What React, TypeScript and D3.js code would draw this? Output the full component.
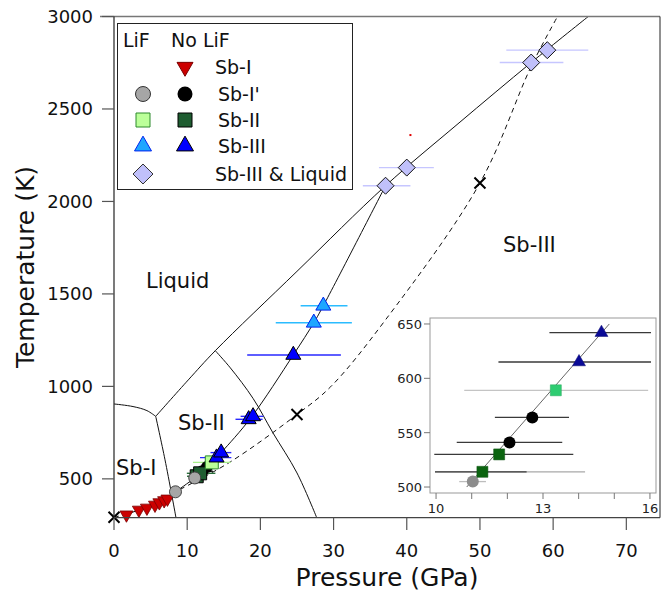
import React from "react";
import * as d3 from "d3";

const W = 670;
const H = 591;
const FONT = "DejaVu Sans, sans-serif";

// phase boundaries, [pressure GPa, temperature K]
const sbILiquid: [number, number][] = [[0, 905], [2.6, 891], [4.5, 869], [5.7, 838]];
const sbISbII: [number, number][] = [[5.7, 838], [6.97, 603], [8.47, 290]];
const meltingCurve: [number, number][] = [[5.7, 838], [10.15, 1035], [13.84, 1193], [25, 1622], [37.1, 2085], [47, 2420], [57, 2751], [64.8, 3000]];
const sbIISbIII: [number, number][] = [[13.84, 1193], [15.9, 1100], [19.0, 935], [21.7, 750], [25, 532], [27.7, 290]];
const dashedCurve: [number, number][] = [[0, 292], [3.5, 333], [8.4, 430], [15.9, 592], [25, 848], [29.6, 998], [37.1, 1360], [50, 2100], [57, 2730], [60.6, 3000]];
const dataCurve: [number, number][] = [[8.4, 430], [11.03, 505], [12.06, 541], [13.36, 589], [14.64, 642], [18.7, 830], [24.5, 1170], [27.3, 1344], [28.6, 1436], [37.1, 2085]];
const crossPoints: [number, number][] = [[0, 292], [25, 848], [50, 2100]];
const strayDot: [number, number][] = [[40.5, 2359]];

// measurements: [P, T, P low, P high]
type Pt = [number, number, number | null, number | null];
const sbINoLiF: Pt[] = [[1.7, 306, null, null], [3.4, 332, null, null], [4.5, 343, null, null], [5.6, 359, null, null], [6.2, 372, null, null], [6.85, 383, null, null], [7.3, 392, null, null]];
const sbIpLiF: Pt[] = [[8.4, 430, null, null], [11.03, 505, 10.65, 11.4]];
const sbIpNoLiF: Pt[] = [[12.06, 541, 10.58, 13.54], [12.7, 564, 11.65, 13.73]];
const sbIILiF: Pt[] = [[13.36, 589, 10.79, 15.95]];
const sbIINoLiF: Pt[] = [[11.3, 514, 9.97, 12.54], [11.77, 530, 9.95, 13.85]];
const sbIIExtraBar: Pt[] = [[11.3, 514, 9.97, 14.18]];
const sbIIILiF: Pt[] = [[27.3, 1344, 22.1, 32.5], [28.6, 1436, 25.5, 31.9]];
const sbIIINoLiF: Pt[] = [[14.01, 615, 11.75, 16.03], [14.64, 642, 13.18, 16.03], [18.4, 822, 16.6, 20.3], [19.0, 838, 17.3, 20.4], [24.5, 1170, 18.2, 31.0]];
const liquidMixLiF: Pt[] = [[37.1, 2085, 34.0, 40.5], [40.0, 2183, 36.2, 43.7], [57.0, 2751, 52.7, 61.4], [59.2, 2818, 53.6, 64.8]];

const insetFit: [number, number][] = [[10.86, 500], [14.86, 650]];

const pressureTicks = [0, 10, 20, 30, 40, 50, 60, 70];
const tempTicks = [500, 1000, 1500, 2000, 2500, 3000];
const insetPTicks = [10, 11, 12, 13, 14, 15, 16];
const insetPLabels = [10, 13, 16];
const insetTTicks = [500, 550, 600, 650];

const regionLabels = [
  { text: "Liquid", x: 146, y: 288 },
  { text: "Sb-III", x: 503, y: 252 },
  { text: "Sb-II", x: 178, y: 430 },
  { text: "Sb-I", x: 116, y: 475 },
];

const legendRows = ["Sb-I", "Sb-I'", "Sb-II", "Sb-III", "Sb-III & Liquid"];

// marker paths centred on 0,0
const triUp = (w: number) => {
  const h = w * 0.87;
  return `M0,${-2 * h / 3}L${w / 2},${h / 3}L${-w / 2},${h / 3}Z`;
};
const triDown = (w: number) => {
  const h = w * 0.87;
  return `M0,${2 * h / 3}L${w / 2},${-h / 3}L${-w / 2},${-h / 3}Z`;
};
const diamond = (d: number) => `M0,${-d / 2}L${d / 2},0L0,${d / 2}L${-d / 2},0Z`;
const square = (s: number) => `M${-s / 2},${-s / 2}h${s}v${s}h${-s}Z`;
const circle = (r: number) => `M${-r},0a${r},${r} 0 1,0 ${2 * r},0a${r},${r} 0 1,0 ${-2 * r},0Z`;

type Style = { path: string; fill: string; stroke: string; sw?: number };

const mainStyles: Record<string, Style> = {
  sbI: { path: triDown(13), fill: "#cc0000", stroke: "#7a0000", sw: 0.8 },
  sbIpLiF: { path: circle(6), fill: "#a6a6a6", stroke: "#444", sw: 1 },
  sbIpNo: { path: circle(6), fill: "#000", stroke: "#000" },
  sbIILiF: { path: square(13), fill: "#bbff99", stroke: "#2c8a2c", sw: 1 },
  sbIINo: { path: square(13), fill: "#1e5c30", stroke: "#000", sw: 1 },
  sbIIILiF: { path: triUp(15), fill: "#1ea6ff", stroke: "#0022ee", sw: 1 },
  sbIIINo: { path: triUp(15), fill: "#0000ff", stroke: "#000", sw: 1 },
  mix: { path: diamond(17), fill: "#c0c0fa", stroke: "#111", sw: 1 },
};

const App = () => {
  const x = d3.scaleLinear().domain([0, 74.6]).range([114, 660]);
  const y = d3.scaleLinear().domain([290, 3000]).range([517.7, 16.5]);
  const ix = d3.scaleLinear().domain([9.83, 16.17]).range([430, 656]);
  const iy = d3.scaleLinear().domain([494.5, 655.5]).range([493, 318]);

  const line = d3.line<[number, number]>().x((d) => x(d[0])).y((d) => y(d[1])).curve(d3.curveCatmullRom);
  const iline = d3.line<[number, number]>().x((d) => ix(d[0])).y((d) => iy(d[1]));

  const mainBars: [Pt[], string][] = [
    [sbIpLiF, "#b4b4b4"],
    [sbIpNoLiF, "#222"],
    [sbIINoLiF, "#2b6e3b"],
    [sbIILiF, "#a8f08a"],
    [sbIIINoLiF, "#2828ff"],
    [sbIIILiF, "#2bbcff"],
    [liquidMixLiF, "#c6c6ff"],
  ];
  const mainMarks: [Pt[], Style][] = [
    [sbINoLiF, mainStyles.sbI],
    [sbIpNoLiF, mainStyles.sbIpNo],
    [sbIINoLiF, mainStyles.sbIINo],
    [sbIpLiF, mainStyles.sbIpLiF],
    [sbIILiF, mainStyles.sbIILiF],
    [sbIIINoLiF, mainStyles.sbIIINo],
    [sbIIILiF, mainStyles.sbIIILiF],
    [liquidMixLiF, mainStyles.mix],
  ];

  const inInset = (d: Pt) => d[0] > 9.83 && d[0] < 16.17 && d[1] > 494.5 && d[1] < 655.5;
  const insetBars: [Pt[], string][] = [
    [sbIIExtraBar, "#a8a8a8"],
    [sbIpLiF, "#bdbdbd"],
    [sbIINoLiF, "#3a3a3a"],
    [sbIpNoLiF, "#3a3a3a"],
    [sbIILiF, "#c4c4c4"],
    [sbIIINoLiF, "#3a3a3a"],
  ];
  const insetMarks: [Pt[], Style][] = [
    [sbIpLiF, { path: circle(6), fill: "#8c8c8c", stroke: "none" }],
    [sbIINoLiF, { path: square(11), fill: "#0b6410", stroke: "#0b5010", sw: 0.5 }],
    [sbIpNoLiF, { path: circle(6), fill: "#000", stroke: "none" }],
    [sbIILiF, { path: square(11), fill: "#2ecc71", stroke: "#27a85c", sw: 0.5 }],
    [sbIIINoLiF, { path: triUp(13), fill: "#0a0a96", stroke: "#0a0a70", sw: 0.5 }],
  ];

  const legendY = [67, 94, 120, 146, 174];
  const legendLiF: (Style | null)[] = [
    null,
    { path: circle(7.5), fill: "#a6a6a6", stroke: "#333", sw: 1 },
    { path: square(14), fill: "#bbff99", stroke: "#2c8a2c", sw: 1 },
    { path: triUp(17), fill: "#1ea6ff", stroke: "#0022ee", sw: 1 },
    { path: diamond(20), fill: "#c0c0fa", stroke: "#333", sw: 1 },
  ];
  const legendNo: (Style | null)[] = [
    { path: triDown(16), fill: "#cc0000", stroke: "#7a0000", sw: 1 },
    { path: circle(7.5), fill: "#000", stroke: "#000" },
    { path: square(14), fill: "#1e5c30", stroke: "#000", sw: 1 },
    { path: triUp(17), fill: "#0000ff", stroke: "#000", sw: 1 },
    null,
  ];

  return (
    <svg width={W} height={H} style={{ position: "absolute", left: 0, top: 0, background: "#fff" }} fontFamily={FONT}>
      <defs>
        <clipPath id="plotClip">
          <rect x={114} y={16.5} width={546} height={501.2} />
        </clipPath>
      </defs>

      {/* phase boundaries */}
      <g clipPath="url(#plotClip)" fill="none" stroke="#111" strokeWidth={1}>
        <path d={line(sbILiquid) || ""} />
        <path d={line(sbISbII) || ""} />
        <path d={line(meltingCurve) || ""} />
        <path d={line(sbIISbIII) || ""} />
        <path d={line(dashedCurve) || ""} strokeDasharray="5,4" />
        <path d={line(dataCurve) || ""} />
      </g>

      {/* error bars */}
      {mainBars.map(([arr, col], i) => (
        <g key={"b" + i} stroke={col} strokeWidth={1.4}>
          {arr.filter((d) => d[2] !== null).map((d, j) => (
            <line key={j} x1={x(d[2] as number)} x2={x(d[3] as number)} y1={y(d[1])} y2={y(d[1])} />
          ))}
        </g>
      ))}

      {/* markers */}
      {mainMarks.map(([arr, st], i) => (
        <g key={"m" + i}>
          {arr.map((d, j) => (
            <path key={j} d={st.path} transform={`translate(${x(d[0])},${y(d[1])})`} fill={st.fill} stroke={st.stroke} strokeWidth={st.sw || 0} />
          ))}
        </g>
      ))}

      {crossPoints.map((d, i) => (
        <path key={"x" + i} d="M-5.5,-5.5L5.5,5.5M-5.5,5.5L5.5,-5.5" transform={`translate(${x(d[0])},${y(d[1])})`} stroke="#000" strokeWidth={2} />
      ))}
      {strayDot.map((d, i) => (
        <rect key={"s" + i} x={x(d[0]) - 1} y={y(d[1]) - 1} width={2} height={2} fill="#e00000" />
      ))}

      {regionLabels.map((r) => (
        <text key={r.text} x={r.x} y={r.y} fontSize={21} fill="#111">{r.text}</text>
      ))}

      {/* legend */}
      <rect x={117.5} y={23.5} width={235} height={166} fill="#fff" stroke="#222" strokeWidth={1} />
      <text x={123} y={47} fontSize={19} fill="#111">LiF</text>
      <text x={171} y={47} fontSize={19} fill="#111">No LiF</text>
      {legendRows.map((lab, i) => (
        <g key={lab}>
          {legendLiF[i] && (
            <path d={legendLiF[i]!.path} transform={`translate(143,${legendY[i]})`} fill={legendLiF[i]!.fill} stroke={legendLiF[i]!.stroke} strokeWidth={legendLiF[i]!.sw || 0} />
          )}
          {legendNo[i] && (
            <path d={legendNo[i]!.path} transform={`translate(185,${legendY[i]})`} fill={legendNo[i]!.fill} stroke={legendNo[i]!.stroke} strokeWidth={legendNo[i]!.sw || 0} />
          )}
          <text x={i === 0 || i === 4 ? 215 : 218} y={legendY[i] + 7} fontSize={19} fill="#111">{lab}</text>
        </g>
      ))}

      {/* inset */}
      <rect x={430} y={318} width={226} height={175} fill="#fff" stroke="#999" strokeWidth={1} />
      <path d={iline(insetFit) || ""} fill="none" stroke="#666" strokeWidth={1} />
      {insetBars.map(([arr, col], i) => (
        <g key={"ib" + i} stroke={col} strokeWidth={1.3}>
          {arr.filter((d) => d[2] !== null && inInset(d)).map((d, j) => (
            <line key={j} x1={ix(Math.max(d[2] as number, 9.9))} x2={ix(Math.min(d[3] as number, 16.1))} y1={iy(d[1])} y2={iy(d[1])} />
          ))}
        </g>
      ))}
      {insetMarks.map(([arr, st], i) => (
        <g key={"im" + i}>
          {arr.filter(inInset).map((d, j) => (
            <path key={j} d={st.path} transform={`translate(${ix(d[0])},${iy(d[1])})`} fill={st.fill} stroke={st.stroke} strokeWidth={st.sw || 0} />
          ))}
        </g>
      ))}
      <g stroke="#777" strokeWidth={1}>
        {insetPTicks.map((t) => (
          <line key={"ipt" + t} x1={ix(t)} x2={ix(t)} y1={493} y2={499} />
        ))}
        {insetTTicks.map((t) => (
          <line key={"itt" + t} x1={424} x2={430} y1={iy(t)} y2={iy(t)} />
        ))}
      </g>
      {insetPLabels.map((t) => (
        <text key={"ipl" + t} x={ix(t)} y={513} fontSize={13} textAnchor="middle" fill="#222">{t}</text>
      ))}
      {insetTTicks.map((t) => (
        <text key={"itl" + t} x={422} y={iy(t) + 5} fontSize={13} textAnchor="end" fill="#222">{t}</text>
      ))}

      {/* frame and axes */}
      <line x1={100} x2={660} y1={16.5} y2={16.5} stroke="#777" strokeWidth={1.5} />
      <line x1={660} x2={660} y1={16.5} y2={517.7} stroke="#222" strokeWidth={1} />
      <line x1={114} x2={114} y1={16.5} y2={517.7} stroke="#222" strokeWidth={1.2} />
      <line x1={114} x2={660} y1={517.7} y2={517.7} stroke="#444" strokeWidth={1.2} />
      <g stroke="#555" strokeWidth={1.2}>
        {pressureTicks.map((t) => (
          <line key={"pt" + t} x1={x(t)} x2={x(t)} y1={517.7} y2={530} />
        ))}
        {tempTicks.map((t) => (
          <line key={"tt" + t} x1={102} x2={114} y1={y(t)} y2={y(t)} />
        ))}
      </g>
      {pressureTicks.map((t) => (
        <text key={"pl" + t} x={x(t)} y={557} fontSize={18} textAnchor="middle" fill="#111">{t}</text>
      ))}
      {tempTicks.map((t) => (
        <text key={"tl" + t} x={93} y={y(t) + 6.5} fontSize={18} textAnchor="end" fill="#111">{t}</text>
      ))}
      <text x={387} y={586} fontSize={25} textAnchor="middle" fill="#111">Pressure (GPa)</text>
      <text transform="translate(34,267) rotate(-90)" fontSize={25} textAnchor="middle" fill="#111">Temperature (K)</text>
    </svg>
  );
};

export default App;
